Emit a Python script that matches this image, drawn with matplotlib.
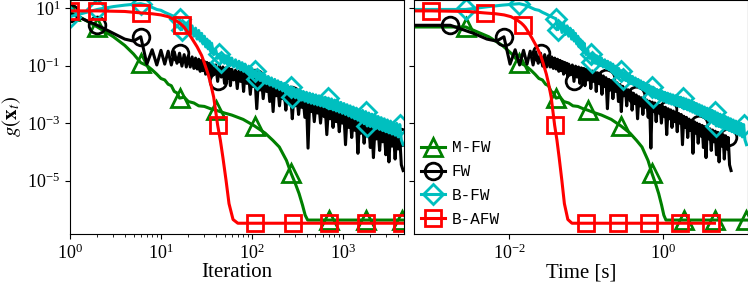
import numpy as np
import matplotlib
matplotlib.use("Agg")
import matplotlib.pyplot as plt
from matplotlib.ticker import NullLocator

plt.rcParams["font.family"] = "serif"
plt.rcParams["font.serif"] = ["Liberation Serif", "DejaVu Serif"]
plt.rcParams["mathtext.fontset"] = "stix"

# iteration grid shared by FW and B-FW (zig-zagging curves)
iters_fw = [1, 2, 3, 4, 5, 6, 7, 8, 9, 10, 11, 12, 13, 14, 15, 16, 17, 18, 19,
            20, 21, 22, 23, 24, 25, 26, 27, 28, 29, 30, 31, 32, 33, 34, 35, 36,
            38, 40, 42, 44, 46, 48, 50, 52, 54, 56, 58, 60, 63, 66, 69, 72, 75,
            78, 81, 84, 88, 92, 96, 100, 104, 108, 113, 118, 123, 128, 133, 139,
            145, 151, 157, 164, 171, 178, 185, 193, 201, 209, 218, 227, 236, 246,
            256, 267, 278, 289, 301, 313, 326, 339, 353, 367, 382, 398, 414, 431,
            448, 466, 485, 505, 525, 546, 568, 591, 615, 640, 666, 693, 721, 750,
            780, 811, 844, 878, 913, 950, 988, 1028, 1069, 1112, 1157, 1203, 1251,
            1301, 1353, 1407, 1464, 1522, 1583, 1647, 1713, 1781, 1853, 1927, 2004,
            2084, 2168, 2254, 2345, 2438, 2536, 2637, 2743, 2853, 2967, 3085, 3209,
            3337, 3471, 3610, 3754, 3904, 4060, 4223, 4392, 4600]

# log10 of the gap
fw_log = [0.81, 0.40, 0.12, -0.08, -0.15, 0.00, -0.95, -0.45, -0.98, -0.47, -0.95,
          -0.50, -0.98, -0.52, -0.92, -0.57, -1.02, -0.62, -1.05,
          -0.66, -1.05, -0.70, -1.10, -0.74, -1.12, -0.78, -1.20, -0.82, -1.18,
          -0.86, -1.30, -0.89, -1.25, -0.92, -1.38, -0.95,
          -1.32, -0.98, -1.55, -1.02, -1.40, -1.05, -1.62, -1.08, -1.45, -1.10,
          -1.70, -1.13, -1.50, -1.16, -1.80, -1.19, -1.55,
          -1.22, -1.90, -1.25, -1.62, -1.30, -2.00, -1.36, -1.72, -1.42, -2.50,
          -1.48, -1.85, -1.52, -2.15, -1.56,
          -1.90, -1.60, -2.25, -1.66, -2.60, -1.72, -2.05, -1.78, -2.40, -1.84,
          -2.15, -1.90, -2.55, -1.96,
          -2.30, -2.02, -2.85, -2.08, -2.40, -2.12, -2.70, -2.16, -2.45, -2.20,
          -2.80, -2.24, -3.87, -2.27,
          -2.60, -2.30, -2.95, -2.34, -2.65, -2.38, -3.00, -2.42, -2.75, -2.45,
          -3.40, -2.50, -2.85, -2.54,
          -3.15, -2.58, -2.95, -2.62, -3.30, -2.66, -3.00, -2.70, -3.75, -2.76,
          -3.15, -2.80, -3.50,
          -2.86, -3.25, -2.90, -4.05, -2.95, -3.35, -3.00, -3.70, -3.04, -3.45,
          -3.08, -3.85,
          -3.12, -4.20, -3.16, -3.55, -3.20, -3.95, -3.24, -3.65, -3.28, -4.10,
          -3.32, -4.35,
          -3.36, -3.80, -3.40, -4.25, -3.44, -3.90, -3.50, -4.45, -4.65]

bfw_log = [0.70, 0.95, 1.05, 1.10, 1.13, 1.15, 1.10, 1.02, 0.95, 0.92, 0.85, 0.80,
           0.75, 0.70, 0.66, 0.63, 0.25, 0.50, 0.15,
           0.45, 0.08, 0.38, 0.02, 0.30, -0.08, 0.22, -0.15, 0.12, -0.25,
           0.02, -0.35, -0.08, -0.42, -0.15, -0.50, -0.22,
           -0.62, -0.45, -0.75, -0.60, -0.88, -0.62, -0.92, -0.66, -0.96, -0.70,
           -1.00, -0.74, -1.05, -0.80, -1.10, -0.85, -1.15,
           -0.90, -1.20, -0.95, -1.25, -1.02, -1.32, -1.10, -1.40, -1.18, -1.48,
           -1.24, -1.52, -1.28, -1.58, -1.33,
           -1.63, -1.38, -1.68, -1.43, -1.72, -1.48, -1.78, -1.53, -1.83, -1.58,
           -1.88, -1.62, -1.95, -1.68,
           -2.02, -1.74, -2.08, -1.79, -2.12, -1.83, -2.16, -1.86, -2.20, -1.90,
           -2.24, -1.93, -2.28, -1.96,
           -2.31, -1.99, -2.34, -2.02, -2.37, -2.05, -2.40, -2.08, -2.43, -2.10,
           -2.46, -2.13, -2.50, -2.16,
           -2.54, -2.20, -2.58, -2.24, -2.62, -2.28, -2.66, -2.32, -2.70, -2.36,
           -2.75, -2.40, -2.80,
           -2.44, -2.85, -2.48, -2.90, -2.52, -2.96, -2.56, -3.02, -2.60, -3.10,
           -2.65, -3.12,
           -2.69, -3.15, -2.73, -3.18, -2.77, -3.22, -2.81, -3.26, -2.85, -3.30,
           -2.89, -3.34,
           -2.93, -3.38, -2.97, -3.42, -3.01, -3.48, -3.05, -3.58, -3.75]

iters_mfw = [1, 2, 3, 4, 5, 6, 7, 8, 9, 10, 11, 12, 13, 14, 15, 16, 18, 20, 23, 26,
             30, 35, 40, 50, 60, 80, 107, 140, 170, 200, 240, 270, 300, 330, 360,
             385, 410, 710, 1780, 4500, 5000]
mfw_log = [0.88, 0.34, 0.00, -0.30, -0.60, -0.90, -1.00, -1.15, -1.30, -1.45, -1.50,
           -1.65, -1.70, -1.90, -1.95, -2.13, -2.10, -2.25, -2.30, -2.40, -2.42,
           -2.50, -2.55, -2.65, -2.72, -2.87, -3.10, -3.35, -3.60, -3.83, -4.30,
           -4.75, -5.10, -5.45, -5.85, -6.20, -6.37, -6.37, -6.37, -6.37, -6.37]

iters_bafw = [1, 2, 4, 6, 8, 10, 12, 14, 16, 17, 18, 20, 22, 25, 28, 30, 33, 35, 38,
              40, 42, 45, 48, 52, 56, 62, 70, 107, 280, 710, 1780, 4500, 5000]
bafw_log = [0.90, 0.90, 0.88, 0.83, 0.80, 0.76, 0.70, 0.60, 0.48, 0.41, 0.33, 0.13,
            -0.07, -0.35, -0.65, -0.91, -1.30, -1.60, -2.10, -2.60, -3.07, -3.60,
            -4.20, -5.00, -5.80, -6.35, -6.48, -6.48, -6.48, -6.48, -6.48, -6.48, -6.48]

sec_per_iter = {"M-FW": 2.7e-3, "FW": 1.7e-3, "B-FW": 2.7e-3, "B-AFW": 9.5e-4}

# iterations that carry a marker
mark_mfw = [1, 2, 6, 16, 40, 107, 270, 710, 1780, 4500]
mark_fw = [1, 2, 6, 16, 42, 108, 267, 693, 1781, 4223]
mark_bfw = [1, 2, 6, 16, 17, 44, 46, 108, 113, 267, 278, 693, 1781, 1853, 4223]
mark_bafw = [1, 2, 6, 17, 42, 107, 280, 710, 1780, 4500]

series = [
    ("M-FW", iters_mfw, mfw_log, "g", "^", 13, mark_mfw),
    ("FW", iters_fw, fw_log, "k", "o", 12, mark_fw),
    ("B-FW", iters_fw, bfw_log, "c", "D", 10, mark_bfw),
    ("B-AFW", iters_bafw, bafw_log, "r", "s", 12, mark_bafw),
]


def nearest(its, targets):
    its = np.asarray(its, dtype=float)
    return sorted({int(np.argmin(np.abs(np.log(its) - np.log(t)))) for t in targets})


fig = plt.figure(figsize=(7.48, 2.85), dpi=100)
ax1 = fig.add_axes([0.0936, 0.179, 0.4465, 0.821])
ax2 = fig.add_axes([0.5535, 0.179, 0.4465, 0.821], sharey=ax1)

for label, its, logs, color, marker, ms, marks in series:
    its = np.asarray(its, dtype=float)
    g = 10.0 ** np.asarray(logs)
    times = sec_per_iter[label] * (its - 1)
    idx = nearest(its, marks)
    style = dict(color=color, marker=marker, markersize=ms, mfc="none",
                 mew=2, lw=2.2, markevery=idx, label=label)
    ax1.plot(its, g, **style)
    ax2.plot(times, g, **style)

for ax in (ax1, ax2):
    ax.set_xscale("log")
    ax.set_yscale("log")
    ax.tick_params(labelsize=13)

ax1.set_ylim(1.4e-7, 19)
ax1.set_yticks([1e1, 1e-1, 1e-3, 1e-5])
ax1.yaxis.set_minor_locator(NullLocator())
ax1.set_xlim(1, 4700)
ax1.set_xticks([1, 10, 100, 1000])
ax1.set_xlabel("Iteration", fontsize=15, labelpad=0)
ax1.set_ylabel(r"$g(\mathbf{x}_t)$", fontsize=15)
ax1.yaxis.set_label_coords(-0.142, 0.5)

ax2.set_xlim(5.7e-4, 13)
ax2.set_xticks([1e-2, 1])
ax2.xaxis.set_minor_locator(NullLocator())
ax2.tick_params(labelleft=False)
ax2.set_xlabel("Time [s]", fontsize=15, labelpad=0)

ax2.legend(loc="lower left", frameon=False, prop={"family": "Liberation Mono", "size": 11.5},
           handlelength=1.5, handletextpad=0.4, labelspacing=0.55,
           borderaxespad=0.25, borderpad=0.2)

fig.savefig("out.png", dpi=100)
